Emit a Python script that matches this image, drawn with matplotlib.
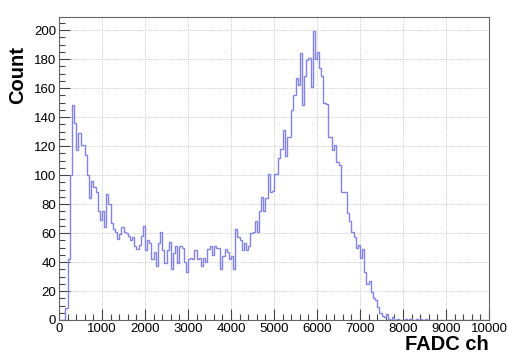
import numpy as np
import matplotlib
matplotlib.use("Agg")
import matplotlib.pyplot as plt
from matplotlib.ticker import MultipleLocator

# Histogram: FADC channel, 200 bins of width 50 from 0 to 10000
x_min, x_max, n_bins = 0, 10000, 200
counts = [
    0, 0, 0, 8, 42, 100, 148, 136, 117, 129,
    121, 121, 114, 100, 84, 96, 92, 88, 75, 69,
    75, 64, 87, 80, 67, 63, 61, 56, 59, 64,
    61, 60, 58, 55, 57, 51, 49, 52, 58, 65,
    48, 55, 53, 42, 47, 37, 53, 61, 48, 39,
    48, 54, 35, 46, 51, 39, 51, 50, 40, 33,
    42, 43, 42, 48, 42, 43, 37, 43, 40, 49,
    51, 45, 51, 50, 50, 35, 44, 49, 47, 42,
    44, 35, 63, 57, 55, 48, 53, 48, 51, 60,
    61, 68, 61, 75, 85, 75, 84, 101, 88, 89,
    101, 101, 112, 118, 131, 113, 126, 126, 145, 155,
    167, 162, 184, 148, 168, 179, 181, 161, 199, 180,
    185, 174, 168, 150, 149, 126, 126, 117, 121, 109,
    107, 88, 88, 88, 74, 68, 61, 57, 50, 52,
    43, 49, 33, 25, 27, 19, 15, 14, 9, 5,
    3, 2, 4, 1, 0, 2, 0, 1, 0, 0,
    0, 1, 0, 1, 0, 0, 1, 0, 1, 0,
    1, 0, 0, 0, 0, 0, 0, 0, 0, 0,
    0, 0, 0, 0, 0, 0, 0, 0, 0, 0,
    0, 0, 0, 0, 0, 0, 0, 0, 0, 0,
]
x_title = "FADC ch"
y_title = "Count"

plt.rcParams['font.family'] = ['Liberation Sans', 'DejaVu Sans']

fig = plt.figure(figsize=(5.07, 3.56), dpi=100)
ax = fig.add_axes([59/507, 1 - 320/356, (489-59)/507, (320-17)/356])

edges = np.linspace(x_min, x_max, n_bins + 1)
ax.stairs(counts, edges, color="#8484e0", linewidth=1.0)

ax.set_xlim(x_min, x_max)
ax.set_ylim(0, 209)

ax.xaxis.set_major_locator(MultipleLocator(1000))
ax.xaxis.set_minor_locator(MultipleLocator(200))
ax.yaxis.set_major_locator(MultipleLocator(20))
ax.yaxis.set_minor_locator(MultipleLocator(5))

ax.tick_params(which="both", direction="in", top=False, right=False,
               colors="#444444", labelcolor="black", labelsize=9.5, width=0.8)
ax.tick_params(which="major", length=8, pad=2)
ax.tick_params(which="minor", length=4)

ax.grid(True, which="major", color="#cccccc", linestyle=(0, (1, 1)), linewidth=0.7)
ax.set_axisbelow(True)
for s in ax.spines.values():
    s.set_color("#666666")
    s.set_linewidth(0.8)

fig.text(489/507, 1 - 345/356, x_title, ha="right", va="center",
         fontsize=14.5, fontweight="bold")
fig.text(18/507, 1 - 75/356, y_title, ha="center", va="center",
         rotation=90, fontsize=14.5, fontweight="bold")

fig.savefig("out.png", dpi=100, facecolor="white")
